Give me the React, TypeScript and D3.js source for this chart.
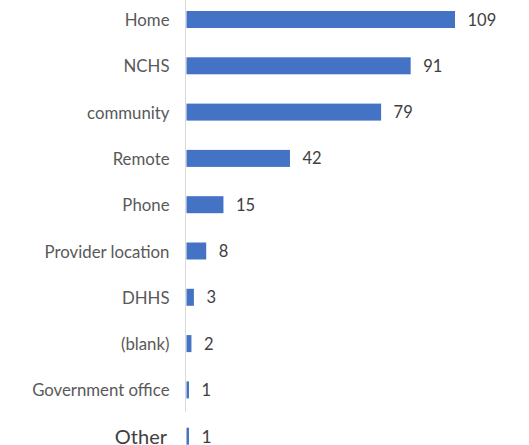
import React from "react";
import * as d3 from "d3";

const categories = ["Home", "NCHS", "community", "Remote", "Phone", "Provider location", "DHHS", "(blank)", "Government office", "Other"];
const values = [109, 91, 79, 42, 15, 8, 3, 2, 1, 1];

const W = 529;
const H = 445;

export default function App() {
  const x = d3.scaleLinear().domain([0, 109]).range([186.5, 455]);
  const y = d3
    .scaleBand<string>()
    .domain(categories)
    .range([-3.65, 459.35])
    .paddingInner(0.633)
    .paddingOuter(0.3165);
  const font = "Lato, 'Open Sans', sans-serif";
  return (
    <svg width={W} height={H} style={{ position: "absolute", left: 0, top: 0, background: "#fff" }}>
      <line x1={185.5} x2={185.5} y1={0} y2={412} stroke="#d9d9d9" strokeWidth={1} />
      {categories.map((c, i) => {
        const yc = (y(c) as number) + y.bandwidth() / 2;
        const isOther = c === "Other";
        return (
          <g key={c}>
            <rect x={x(0)} y={y(c)} width={x(values[i]) - x(0)} height={y.bandwidth()} fill="#4472C4" />
            <text
              x={isOther ? 167 : 169.5}
              y={yc}
              textAnchor="end"
              dominantBaseline="central"
              fontFamily={font}
              fontSize={isOther ? 20 : 16.8}
              fill={isOther ? "#404040" : "#595959"}
            >
              {c}
            </text>
            <text
              x={x(values[i]) + 12.5}
              y={yc}
              dominantBaseline="central"
              fontFamily={font}
              fontSize={isOther ? 17.5 : 16.5}
              fill="#404040"
            >
              {values[i]}
            </text>
          </g>
        );
      })}
    </svg>
  );
}
